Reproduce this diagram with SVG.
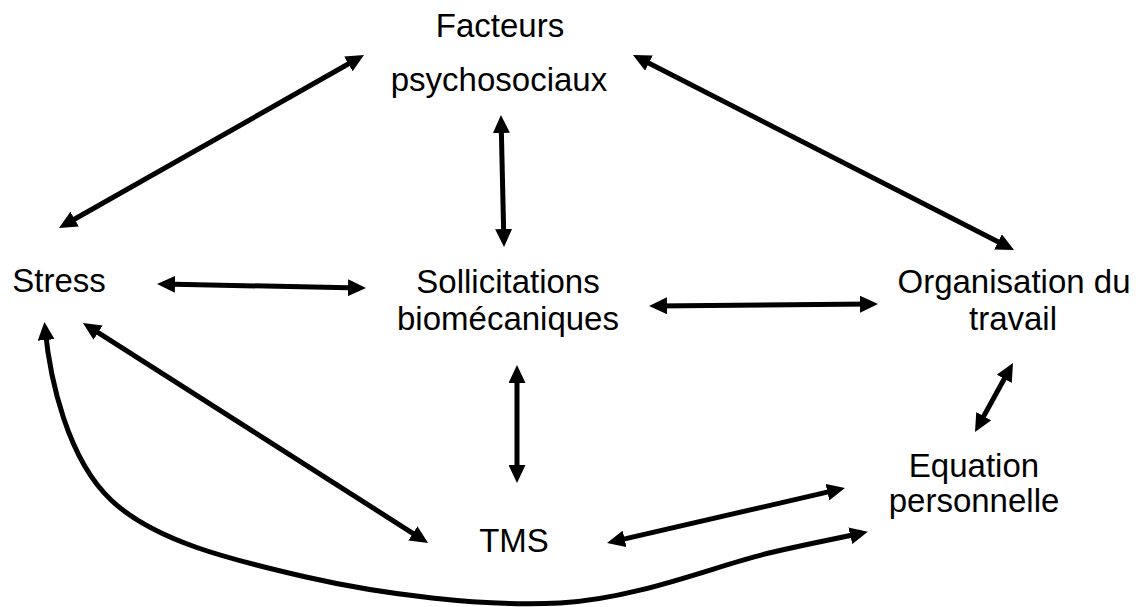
<svg xmlns="http://www.w3.org/2000/svg" width="1145" height="607" viewBox="0 0 1145 607">
<style>
.lbl{font-family:"Liberation Sans",Arial,sans-serif;font-size:33px;fill:#000;text-anchor:middle}
.c{fill:none;stroke:#000;stroke-width:5;marker-start:url(#ah);marker-end:url(#ah)}
</style>
<defs>
<marker id="ah" markerUnits="userSpaceOnUse" markerWidth="18" markerHeight="17" viewBox="0 0 18 17" refX="12" refY="8.5" orient="auto-start-reverse">
<path d="M0,0 L18,8.5 L0,17 z" fill="#000"/>
</marker>
</defs>
<rect width="1145" height="607" fill="#fff"/>
<g id="facteurs"><text class="lbl" x="500" y="37">Facteurs</text><text class="lbl" x="499" y="91">psychosociaux</text></g>
<g id="stress"><text class="lbl" x="59" y="292">Stress</text></g>
<g id="sollicitations"><text class="lbl" x="508" y="293">Sollicitations</text><text class="lbl" x="508" y="330">biomécaniques</text></g>
<g id="organisation"><text class="lbl" x="1014" y="293">Organisation du</text><text class="lbl" x="1013" y="330">travail</text></g>
<g id="equation"><text class="lbl" x="974" y="477">Equation</text><text class="lbl" x="974" y="512">personnelle</text></g>
<g id="tms"><text class="lbl" x="514" y="552">TMS</text></g>
<g id="connectors">
<path class="c" d="M64.2,225 L358.8,58"/>
<path class="c" d="M501.1,121 L503.9,241"/>
<path class="c" d="M163,284.1 L360,287.9"/>
<path class="c" d="M638.3,57.7 L1008.7,247.3"/>
<path class="c" d="M655,305.9 L872,304.1"/>
<path class="c" d="M88,326.2 L423,539.8"/>
<path class="c" d="M517,371 L517,477"/>
<path class="c" d="M612.9,541.6 L839.1,489.4"/>
<path class="c" d="M1010.1,368.3 L977.9,426.7"/>
<path class="c" d="M45,328 C50,380 67.5,458.8 111,500 C154.5,541.2 231.2,559.8 306,577 C380.8,594.2 482.8,607 560,603 C637.2,599 719,564.5 769,553 C819,541.5 845,537 862,533"/>
</g>
</svg>
